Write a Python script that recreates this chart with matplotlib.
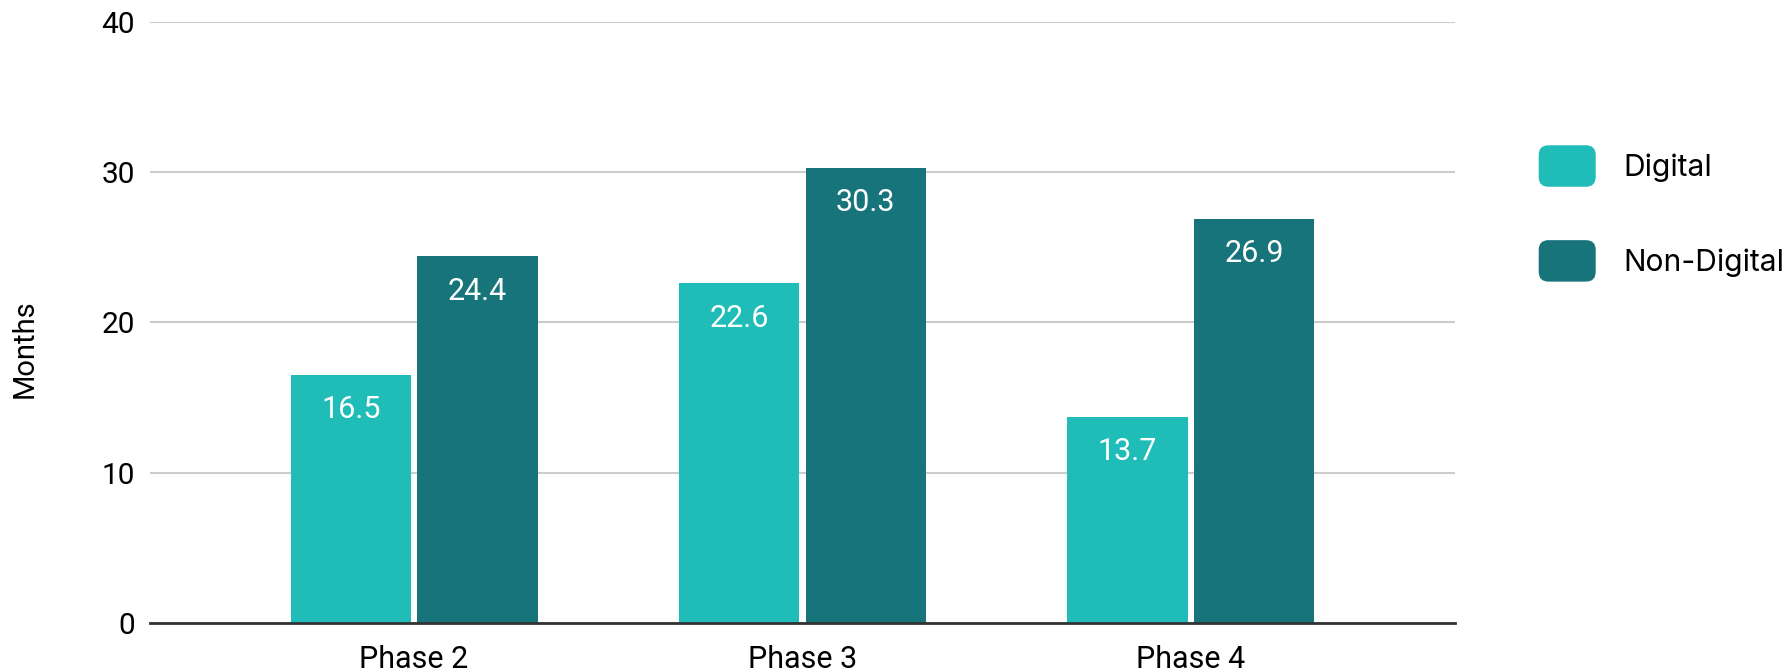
import matplotlib
matplotlib.use("Agg")
import matplotlib.pyplot as plt
import numpy as np
from matplotlib.patches import FancyBboxPatch, Patch
from matplotlib.legend_handler import HandlerPatch

plt.rcParams['font.family'] = ['Roboto', 'DejaVu Sans']

phases = ["Phase 2", "Phase 3", "Phase 4"]
digital = [16.5, 22.6, 13.7]
non_digital = [24.4, 30.3, 26.9]
series_names = ["Digital", "Non-Digital"]
colors = ["#20bcb8", "#17747a"]

fig = plt.figure(figsize=(17.89, 6.72), dpi=100)
ax = fig.add_axes([0.0838, 0.0729, 0.7295, 0.8944])

x = np.arange(len(phases))
w = 0.31
off = 0.163

for vals, dx, c in [(digital, -off, colors[0]), (non_digital, off, colors[1])]:
    bars = ax.bar(x + dx, vals, width=w, color=c, zorder=3)
    for b, v in zip(bars, vals):
        ax.annotate(f"{v:.1f}", xy=(b.get_x() + b.get_width() / 2, v),
                    xytext=(0, -25), textcoords="offset points",
                    ha="center", va="center", color="white", fontsize=22, zorder=4)

ax.set_xlim(-0.68, 2.68)
ax.set_ylim(0, 40)
ax.set_yticks([0, 10, 20, 30, 40])
ax.set_xticks(x)
ax.set_xticklabels(phases)
ax.tick_params(axis="y", length=0, pad=11, labelsize=21.5)
ax.tick_params(axis="x", length=0, pad=16, labelsize=22)
ax.grid(axis="y", color="#cccccc", linewidth=1.5, zorder=0)
for s in ["top", "right", "left"]:
    ax.spines[s].set_visible(False)
ax.spines["bottom"].set_color("#333333")
ax.spines["bottom"].set_linewidth(2)
ax.spines["bottom"].set_zorder(5)
ax.set_ylabel("Months", fontsize=21)
ax.yaxis.set_label_coords(-0.085, 0.457)


def rounded(legend, orig_handle, xdescent, ydescent, width, height, fontsize):
    return FancyBboxPatch((-xdescent, -ydescent), width, height,
                          boxstyle="round,pad=0,rounding_size=7")


handles = [Patch(facecolor=c, label=n) for c, n in zip(colors, series_names)]
leg = fig.legend(handles=handles, loc="upper left", bbox_to_anchor=(0.845, 0.824),
                 frameon=False, handlelength=1.9, handleheight=1.75,
                 labelspacing=1.78, handletextpad=0.93,
                 handler_map={Patch: HandlerPatch(patch_func=rounded)},
                 prop={'family': ['Inter', 'DejaVu Sans'], 'size': 21.6})

fig.savefig("out.png", dpi=100)
